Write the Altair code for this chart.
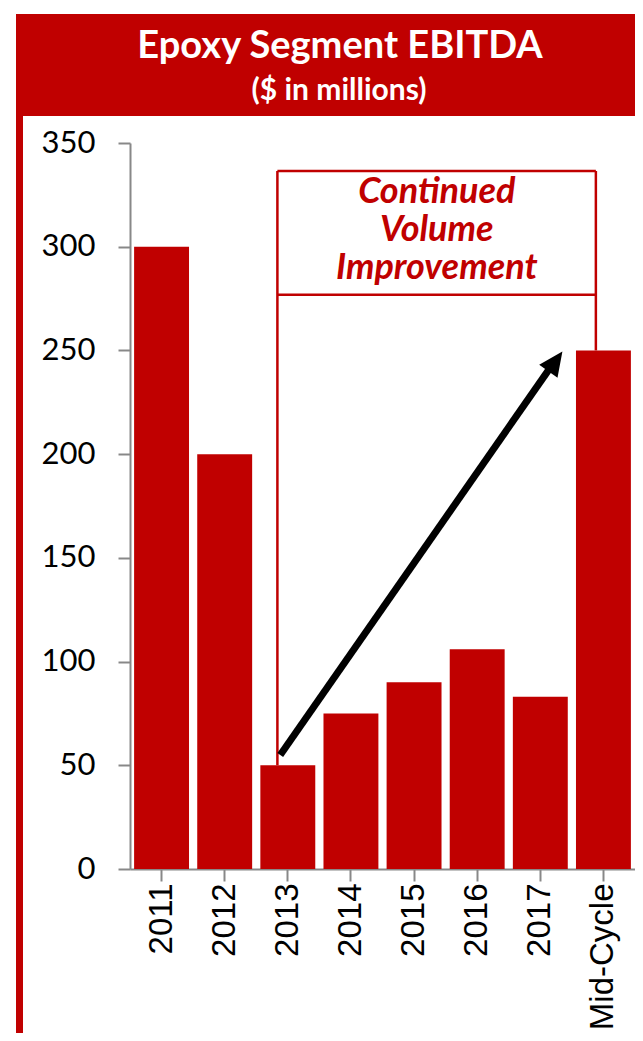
import altair as alt
import pandas as pd

categories = ["2011", "2012", "2013", "2014", "2015", "2016", "2017", "Mid-Cycle"]
ebitda = [300, 200, 50, 75, 90, 106, 83, 250]
y_ticks = [0, 50, 100, 150, 200, 250, 300, 350]

title_text = "Epoxy Segment EBITDA"
subtitle_text = "($ in millions)"
note_text = "Continued\nVolume\nImprovement"

# annotation geometry in data units (x: category-index scale 0..8, y: $M)
box_left, box_right = 2.335, 7.38
box_top, box_divider = 336.5, 276.8
box_left_bottom, box_right_bottom = 50, 250
note_x, note_y = 4.86, 321.0
arrow_start = (2.38, 55)
arrow_end = (6.71, 244.0)
arrow_tip = (6.85, 249.5)

RED = "#C00000"
W, H = 505, 726

bars_df = pd.DataFrame({"cat": categories, "v": ebitda})

yscale = alt.Scale(domain=[0, 350], nice=False, zero=True)
xq = alt.Scale(domain=[0, 8], nice=False, zero=False)
y_axis = alt.Axis(values=y_ticks, title=None, grid=False, labelFont="Lato",
                  labelFontSize=31, labelColor="black", tickSize=12,
                  domainColor="#888", tickColor="#888", domainWidth=2,
                  tickWidth=2, labelPadding=23)

bars = alt.Chart(bars_df).mark_bar(color=RED).encode(
    x=alt.X("cat:N", sort=categories,
            scale=alt.Scale(paddingInner=0.13, paddingOuter=0.065),
            axis=alt.Axis(title=None, labelAngle=-90, labelFont="Liberation Sans",
                          labelFontSize=33, labelColor="black", tickSize=12,
                          domainColor="#888", tickColor="#888", domainWidth=2,
                          tickWidth=2, labelPadding=2)),
    y=alt.Y("v:Q", scale=yscale, axis=y_axis),
)

lines_df = pd.DataFrame({
    "x": [box_left, box_left, box_left, box_right],
    "x2": [box_right, box_right, box_left, box_right],
    "y": [box_top, box_divider, box_top, box_top],
    "y2": [box_top, box_divider, box_left_bottom, box_right_bottom],
})
box = alt.Chart(lines_df).mark_rule(color=RED, strokeWidth=2.5).encode(
    x=alt.X("x:Q", scale=xq, axis=None), x2="x2:Q",
    y=alt.Y("y:Q", scale=yscale, axis=y_axis), y2="y2:Q",
)

note = alt.Chart(pd.DataFrame({"x": [note_x], "y": [note_y], "t": [note_text]})).mark_text(
    font="Lato", fontSize=36, fontWeight="bold", fontStyle="italic", color=RED,
    lineBreak="\n", lineHeight=38, align="center", baseline="alphabetic",
).encode(
    x=alt.X("x:Q", scale=xq, axis=None),
    y=alt.Y("y:Q", scale=yscale, axis=y_axis),
    text="t:N",
)

arrow_df = pd.DataFrame({"x": [arrow_start[0]], "x2": [arrow_end[0]],
                         "y": [arrow_start[1]], "y2": [arrow_end[1]]})
arrow = alt.Chart(arrow_df).mark_rule(color="black", strokeWidth=7).encode(
    x=alt.X("x:Q", scale=xq, axis=None), x2="x2:Q",
    y=alt.Y("y:Q", scale=yscale, axis=y_axis), y2="y2:Q",
)
head = alt.Chart(pd.DataFrame({"x": [arrow_tip[0]], "y": [arrow_tip[1]]})).mark_point(
    shape="M0,0 L0.6,1.3 L-0.6,1.3 Z", size=1400, angle=35.3,
    filled=True, color="black", opacity=1,
).encode(
    x=alt.X("x:Q", scale=xq, axis=None),
    y=alt.Y("y:Q", scale=yscale, axis=y_axis),
)

one = pd.DataFrame({"a": [0]})
banner = alt.Chart(one).mark_rect(color=RED).encode(
    x=alt.value(-114), x2=alt.value(W + 20), y=alt.value(-129), y2=alt.value(-27))
strip = alt.Chart(one).mark_rect(color=RED).encode(
    x=alt.value(-114), x2=alt.value(-107), y=alt.value(-30), y2=alt.value(H + 200))
title = alt.Chart(one).mark_text(font="Lato", fontSize=38, fontWeight="bold",
                                  color="white", align="center", baseline="alphabetic").encode(
    x=alt.value(210), y=alt.value(-85), text=alt.value(title_text))
subtitle = alt.Chart(one).mark_text(font="Lato", fontSize=30, fontWeight="bold",
                                     color="white", align="center", baseline="alphabetic").encode(
    x=alt.value(209), y=alt.value(-43), text=alt.value(subtitle_text))

chart = alt.layer(banner, strip, title, subtitle, bars, box, note, arrow, head).resolve_scale(
    x="independent"
).properties(
    width=W, height=H,
    autosize=alt.AutoSizeParams(type="none"),
    padding={"left": 122, "top": 135, "right": 0, "bottom": 164},
    background="white",
).configure_view(stroke=None)

chart.save("out.html", embed_options={"renderer": "svg", "actions": False})
